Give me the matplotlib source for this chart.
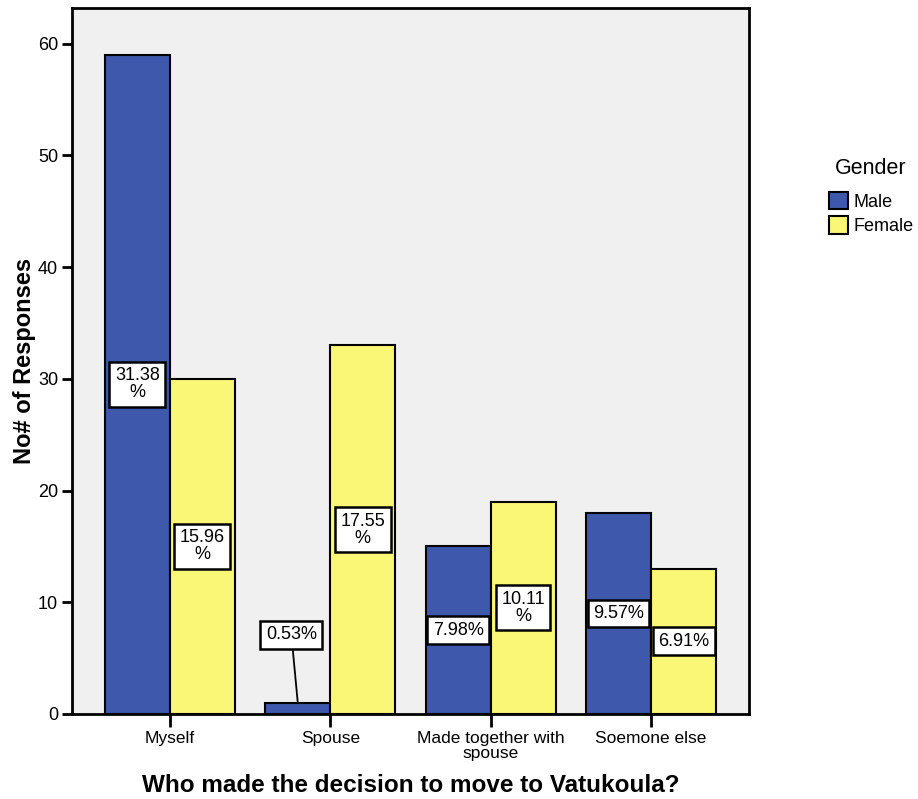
import numpy as np
import matplotlib
matplotlib.use("Agg")
from matplotlib import pyplot as plt
from matplotlib.patches import Patch

plt.rcParams['font.family'] = ['Liberation Sans', 'DejaVu Sans']

categories = ["Myself", "Spouse", "Made together with\nspouse", "Soemone else"]
male = [59, 1, 15, 18]
female = [30, 33, 19, 13]
male_pct = ["31.38\n%", "0.53%", "7.98%", "9.57%"]
female_pct = ["15.96\n%", "17.55\n%", "10.11\n%", "6.91%"]

blue = "#3e58ac"
yellow = "#f9f775"

fig = plt.figure(figsize=(9.18, 7.99), dpi=100)
ax = fig.add_axes([0.0784, 0.1064, 0.7375, 0.8836])
ax.set_facecolor("#f0f0f0")

x = np.arange(len(categories))
w = 0.405
ax.bar(x - w/2, male, w, color=blue, edgecolor="black", linewidth=1.5, zorder=2)
ax.bar(x + w/2, female, w, color=yellow, edgecolor="black", linewidth=1.5, zorder=2)

box = dict(boxstyle="square,pad=0.3", facecolor="white", edgecolor="black", linewidth=1.8)
for i in range(len(categories)):
    if male[i] > 3:
        ax.text(x[i] - w/2, male[i] / 2, male_pct[i], ha="center", va="center",
                fontsize=13, linespacing=1.0, bbox=box, zorder=4)
    else:
        # small bar: label sits above with a leader line
        ax.annotate(male_pct[i], xy=(x[i] - w/2, male[i]), xytext=(x[i] - w/2 - 0.04, 7.1),
                    ha="center", va="center", fontsize=13, bbox=box, zorder=4,
                    arrowprops=dict(arrowstyle="-", color="black", lw=1.3, shrinkA=0, shrinkB=0))
    ax.text(x[i] + w/2, female[i] / 2, female_pct[i], ha="center", va="center",
            fontsize=13, linespacing=1.0, bbox=box, zorder=4)

ax.set_xlim(-0.61, 3.61)
ax.set_ylim(0, 63.2)
ax.set_yticks([0, 10, 20, 30, 40, 50, 60])
ax.set_xticks(x)
ax.set_xticklabels(categories, fontsize=12.5, linespacing=1.05)
ax.tick_params(axis="y", labelsize=13, length=7, width=2, direction="out", pad=3)
ax.tick_params(axis="x", length=9, width=2, direction="out", pad=3)
for s in ax.spines.values():
    s.set_linewidth(2)
    s.set_color("black")

ax.set_ylabel("No# of Responses", fontsize=17, fontweight="bold", labelpad=1)
ax.set_xlabel("Who made the decision to move to Vatukoula?", fontsize=17.5, fontweight="bold", labelpad=9)

handles = [Patch(facecolor=blue, edgecolor="black", linewidth=1.5, label="Male"),
           Patch(facecolor=yellow, edgecolor="black", linewidth=1.5, label="Female")]
fig.text(0.949, 1 - 168/799, "Gender", ha="center", va="center", fontsize=15.5)
leg = fig.legend(handles=handles, loc="upper left", bbox_to_anchor=(0.903, 1 - 192/799),
                 frameon=False, fontsize=13, handlelength=1.05, handleheight=1.1,
                 handletextpad=0.3, labelspacing=0.3, borderpad=0, borderaxespad=0)

fig.savefig("out.png", dpi=100)
